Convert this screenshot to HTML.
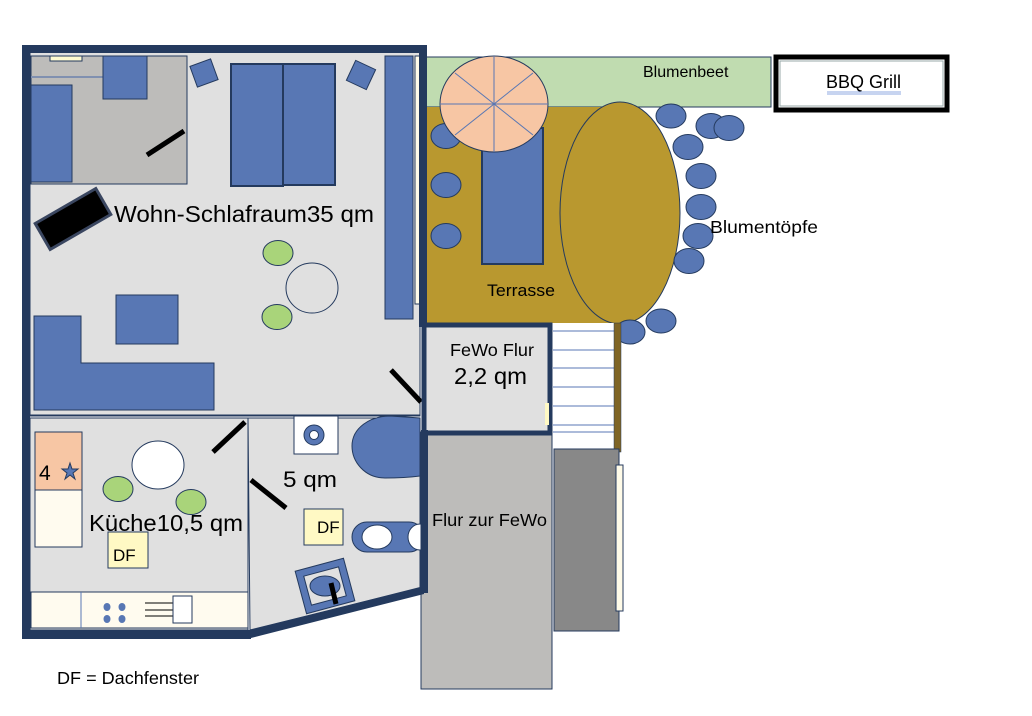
<!DOCTYPE html>
<html><head><meta charset="utf-8"><style>
html,body{margin:0;padding:0;background:#fff;width:1032px;height:716px;overflow:hidden}
text{font-family:"Liberation Sans",sans-serif;fill:#000}
</style></head><body>
<svg width="1032" height="716" viewBox="0 0 1032 716" xmlns="http://www.w3.org/2000/svg">
<g stroke="#243a5e" stroke-width="1">
<rect x="30" y="52" width="390" height="364" fill="#e0e0e0"/>
<rect x="30" y="418" width="218" height="212" fill="#e0e0e0"/>
<polygon points="248,418 420,418 420,588 250,630" fill="#e0e0e0"/>
<rect x="31" y="56" width="156" height="128" fill="#bdbcba"/>
<line x1="31" y1="77" x2="103" y2="77" stroke="#8090b0" stroke-width="2"/>
<rect x="50" y="56" width="32" height="5" fill="#fffbd0"/>
<rect x="31" y="85" width="41" height="97" fill="#5877b4"/>
<rect x="103" y="56" width="44" height="43" fill="#5877b4"/>
<rect x="193" y="62" width="22" height="22" fill="#5877b4" transform="rotate(-20 204 73)"/>
<rect x="350" y="64" width="22" height="22" fill="#5877b4" transform="rotate(25 361 75)"/>
<rect x="231" y="64" width="52" height="122" fill="#5877b4" stroke-width="2"/>
<rect x="283" y="64" width="52" height="121" fill="#5877b4" stroke-width="2"/>
<rect x="385" y="56" width="28" height="263" fill="#5877b4"/>
<rect x="415" y="56" width="5" height="248" fill="#fffbe8"/>
<rect x="38" y="204" width="70" height="30" fill="#000" stroke="#3a4660" stroke-width="3" transform="rotate(-30 73 219)"/>
<ellipse cx="278" cy="253" rx="15" ry="12.5" fill="#a9d47a"/>
<ellipse cx="312" cy="288" rx="26" ry="25" fill="#e0e0e0"/>
<ellipse cx="277" cy="317" rx="15" ry="12.5" fill="#a9d47a"/>
<rect x="116" y="295" width="62" height="49" fill="#5877b4"/>
<polygon points="34,316 81,316 81,363 214,363 214,410 34,410" fill="#5877b4"/>
<line x1="30" y1="415" x2="420" y2="415"/>
<line x1="30" y1="418" x2="420" y2="418"/>
<line x1="248" y1="418" x2="248" y2="630"/>
<rect x="35" y="432" width="47" height="58" fill="#f7c6a4"/>
<rect x="35" y="490" width="47" height="57" fill="#fffbef"/>
<polygon points="70,463 72,469 78,469 73,473 75,479 70,475 65,479 67,473 62,469 68,469" fill="#5877b4"/>
<ellipse cx="158" cy="465" rx="26" ry="24" fill="#fff"/>
<ellipse cx="118" cy="489" rx="15" ry="12.5" fill="#a9d47a"/>
<ellipse cx="191" cy="502" rx="15" ry="12.5" fill="#a9d47a"/>
<rect x="108" y="532" width="40" height="36" fill="#fff9c4"/>
<rect x="31" y="592" width="217" height="36" fill="#fffbef"/>
<line x1="81" y1="592" x2="81" y2="628" stroke="#5877b4"/>
<rect x="294" y="416" width="44" height="38" fill="#fff"/>
<circle cx="314" cy="435" r="10" fill="#5877b4"/>
<circle cx="314" cy="435" r="4.5" fill="#fff"/>
<path d="M420,418 L420,476 C405,478 390,478 385,478 C365,478 352,462 352,446 C352,428 370,416 390,416 Z" fill="#5877b4"/>
<rect x="304" y="509" width="39" height="36" fill="#fff9c4"/>
<rect x="352" y="522" width="72" height="30" rx="15" fill="#5877b4"/>
<ellipse cx="377" cy="537" rx="15" ry="12" fill="#fff"/>
<ellipse cx="420" cy="537" rx="12" ry="13" fill="#fff"/>
<rect x="300" y="564" width="50" height="44" fill="#5877b4" transform="rotate(-15 325 586)"/>
<rect x="307" y="571" width="36" height="30" fill="#e0e0e0" transform="rotate(-15 325 586)"/>
<ellipse cx="325" cy="586" rx="15" ry="10" fill="#5877b4"/>
</g>
<g fill="#5877b4"><ellipse cx="107" cy="607" rx="3.5" ry="4"/><ellipse cx="122" cy="607" rx="3.5" ry="4"/><ellipse cx="107" cy="619" rx="3.5" ry="4"/><ellipse cx="122" cy="619" rx="3.5" ry="4"/></g>
<g stroke="#000" stroke-width="1"><line x1="145" y1="603" x2="173" y2="603"/><line x1="145" y1="610" x2="173" y2="610"/><line x1="145" y1="616" x2="173" y2="616"/></g>
<rect x="173" y="596" width="19" height="27" fill="#fff" stroke="#243a5e"/>
<g stroke="#000" stroke-width="5">
<line x1="147" y1="155" x2="184" y2="131"/>
<line x1="391" y1="370" x2="421" y2="402"/>
<line x1="213" y1="452" x2="245" y2="422"/>
<line x1="251" y1="480" x2="286" y2="508"/>
<line x1="331" y1="583" x2="336" y2="604"/>
<line x1="464" y1="434" x2="492" y2="462"/>
<line x1="555" y1="396" x2="588" y2="368"/>
</g>
<rect x="426" y="57" width="345" height="50" fill="#c0dcb0" stroke="#243a5e"/>
<rect x="426" y="107" width="186" height="216" fill="#b9982f"/>
<g fill="#5877b4" stroke="#243a5e">
<ellipse cx="446" cy="136" rx="15" ry="12.5"/>
<ellipse cx="446" cy="185" rx="15" ry="12.5"/>
<ellipse cx="446" cy="236" rx="15" ry="12.5"/>
<rect x="482" y="128" width="61" height="136" stroke-width="2"/>
</g>
<ellipse cx="620" cy="213" rx="60" ry="111" fill="#b9982f" stroke="#243a5e"/>
<ellipse cx="494" cy="104" rx="54" ry="48" fill="#f7c6a4" stroke="#243a5e"/>
<g stroke="#5877b4"><line x1="494" y1="56" x2="494" y2="152"/><line x1="440" y1="104" x2="548" y2="104"/><line x1="455" y1="73" x2="533" y2="135"/><line x1="455" y1="135" x2="533" y2="73"/></g>
<g fill="#5877b4" stroke="#243a5e">
<ellipse cx="671" cy="116" rx="15" ry="12"/>
<ellipse cx="711" cy="126" rx="15" ry="12.5"/>
<ellipse cx="729" cy="128" rx="15" ry="12.5"/>
<ellipse cx="688" cy="147" rx="15" ry="12.5"/>
<ellipse cx="701" cy="176" rx="15" ry="12.5"/>
<ellipse cx="701" cy="207" rx="15" ry="12.5"/>
<ellipse cx="698" cy="236" rx="15" ry="12.5"/>
<ellipse cx="689" cy="261" rx="15" ry="12.5"/>
<ellipse cx="661" cy="321" rx="15" ry="12"/>
<ellipse cx="630" cy="332" rx="15" ry="12"/>
</g>
<rect x="553" y="323" width="62" height="126" fill="#fff"/>
<g stroke="#5877b4"><line x1="553" y1="331" x2="614" y2="331"/><line x1="553" y1="350" x2="614" y2="350"/><line x1="553" y1="368" x2="614" y2="368"/><line x1="553" y1="387" x2="614" y2="387"/><line x1="553" y1="406" x2="614" y2="406"/><line x1="553" y1="425" x2="614" y2="425"/><line x1="553" y1="432" x2="614" y2="432"/></g>
<rect x="614" y="323" width="7" height="129" fill="#7f6525" stroke="#243a5e" stroke-width="0.5"/>
<rect x="421" y="432" width="131" height="257" fill="#bdbcba" stroke="#243a5e"/>
<rect x="554" y="449" width="65" height="182" fill="#888" stroke="#243a5e"/>
<rect x="616" y="465" width="7" height="146" fill="#fffbe8" stroke="#243a5e"/>
<rect x="424" y="325" width="126" height="108" fill="#e0e0e0" stroke="#243a5e" stroke-width="5"/>
<rect x="545" y="403" width="4" height="22" fill="#fff9c4"/>
<g fill="#243a5e">
<rect x="22" y="45" width="405" height="8"/>
<rect x="22" y="45" width="8" height="594"/>
<rect x="22" y="630" width="229" height="9"/>
<polygon points="250,630 424,586 424,594 251,638"/>
<rect x="419" y="47" width="8" height="280"/>
<rect x="421" y="430" width="7" height="163"/>
</g>
<rect x="776" y="57" width="171" height="53" fill="#fff" stroke="#000" stroke-width="5"/>
<rect x="780" y="61" width="163" height="45" fill="none" stroke="#9aa"/>
<line x1="827" y1="92" x2="901" y2="92" stroke="#8fa8e0" stroke-width="1"/>
<line x1="827" y1="94" x2="901" y2="94" stroke="#8fa8e0" stroke-width="1"/>
<text x="114" y="222" font-size="23" textLength="260" lengthAdjust="spacingAndGlyphs">Wohn-Schlafraum35 qm</text>
<text x="643" y="77" font-size="16">Blumenbeet</text>
<text x="826" y="88" font-size="18" textLength="75" lengthAdjust="spacingAndGlyphs">BBQ Grill</text>
<text x="710" y="233" font-size="17.5" textLength="108" lengthAdjust="spacingAndGlyphs">Blumentöpfe</text>
<text x="487" y="296" font-size="17" textLength="68" lengthAdjust="spacingAndGlyphs">Terrasse</text>
<text x="450" y="356" font-size="17.5" textLength="84" lengthAdjust="spacingAndGlyphs">FeWo Flur</text>
<text x="454" y="384" font-size="23" textLength="73" lengthAdjust="spacingAndGlyphs">2,2 qm</text>
<text x="432" y="526" font-size="17.5" textLength="115" lengthAdjust="spacingAndGlyphs">Flur zur FeWo</text>
<text x="39" y="480" font-size="21">4</text>
<text x="283" y="487" font-size="22" textLength="54" lengthAdjust="spacingAndGlyphs">5 qm</text>
<text x="89" y="531" font-size="23" textLength="154" lengthAdjust="spacingAndGlyphs">Küche10,5 qm</text>
<text x="113" y="561" font-size="17">DF</text>
<text x="317" y="533" font-size="17">DF</text>
<text x="57" y="684" font-size="17.5" textLength="142" lengthAdjust="spacingAndGlyphs">DF = Dachfenster</text>
</svg>
</body></html>
